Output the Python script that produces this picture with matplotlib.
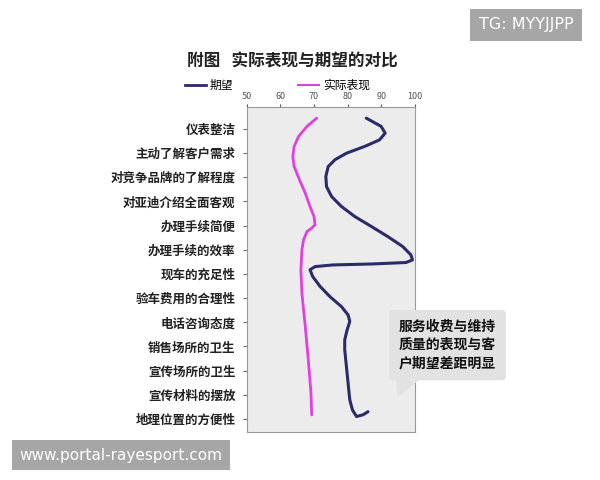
import matplotlib
matplotlib.use('Agg')
import matplotlib.pyplot as plt
from matplotlib.patches import Polygon
from matplotlib.lines import Line2D

plt.rcParams['font.family'] = ['Noto Sans CJK SC', 'DejaVu Sans']

# categories, top to bottom
items = ['仪表整洁', '主动了解客户需求', '对竞争品牌的了解程度', '对亚迪介绍全面客观',
         '办理手续简便', '办理手续的效率', '现车的充足性', '验车费用的合理性',
         '电话咨询态度', '销售场所的卫生', '宣传场所的卫生', '宣传材料的摆放',
         '地理位置的方便性']

# points (position in category units, score)
expect_pos = [-0.44, -0.10, 0.18, 0.46, 0.73, 1.01, 1.28, 1.56, 1.97, 2.39, 2.80,
              3.21, 3.63, 4.04, 4.46, 4.87, 5.21, 5.42, 5.53, 5.59, 5.63, 5.70,
              5.83, 6.11, 6.52, 6.94, 7.35, 7.70, 7.97, 8.32, 8.73, 9.14, 9.83,
              10.52, 11.21, 11.63, 11.90, 11.83, 11.70]
expect_val = [85.5, 89.9, 91.1, 89.4, 85.0, 79.6, 76.2, 74.2, 73.5, 73.7, 75.2,
              78.1, 82.1, 87.0, 91.9, 96.3, 98.7, 99.2, 97.3, 87.4, 75.6, 70.3,
              68.8, 69.6, 71.8, 74.7, 78.1, 80.1, 80.6, 79.8, 79.1, 79.1, 79.6,
              80.1, 80.6, 81.4, 82.6, 84.5, 86.0]

actual_pos = [-0.44, -0.10, 0.32, 0.73, 1.15, 1.56, 2.11, 2.66, 3.21, 3.63, 3.97,
              4.11, 4.25, 4.59, 5.01, 5.83, 6.80, 8.18, 9.56, 10.94, 11.83]
actual_val = [70.8, 67.9, 65.4, 64.1, 63.7, 64.1, 65.7, 67.4, 68.8, 70.0, 70.3,
              69.3, 67.9, 66.9, 66.4, 66.1, 66.4, 67.4, 68.3, 69.1, 69.3]

xticks = [50, 60, 70, 80, 90, 100]

navy = '#2b2b6b'
pink = '#e040e0'

fig = plt.figure(figsize=(6, 4.8), dpi=100)
ax = fig.add_axes([0.411, 0.10, 0.281, 0.677])
ax.set_facecolor('#ececec')

ax.plot(expect_val, expect_pos, color=navy, lw=2.2, solid_capstyle='round')
ax.plot(actual_val, actual_pos, color=pink, lw=2, solid_capstyle='round')

ax.set_xlim(50, 100)
ax.set_ylim(12.54, -0.9)
ax.xaxis.tick_top()
ax.set_xticks(xticks)
ax.tick_params(axis='x', labelsize=6.5, colors='#555555', length=2, pad=2)
ax.set_yticks(range(len(items)))
ax.set_yticklabels(items, fontsize=9, fontweight='bold', color='#222222')
ax.tick_params(axis='y', length=3, color='#666666', pad=5)
for s in ax.spines.values():
    s.set_color('#999999')
    s.set_linewidth(0.8)

fig.text(0.488, 0.871, '附图   实际表现与期望的对比', ha='center', va='center',
         fontsize=12, fontweight='bold', color='#222222')

handles = [Line2D([], [], color=navy, lw=2), Line2D([], [], color=pink, lw=1.5)]
fig.legend(handles, ['期望', '实际表现'], ncol=2, loc='center left',
           bbox_to_anchor=(0.29, 0.822), frameon=False, fontsize=8.5,
           handlelength=1.8, handletextpad=0.3, columnspacing=5.5)

# callout bubble
tail = Polygon([(0.66, 0.215), (0.663, 0.173), (0.705, 0.215)],
               closed=True, transform=fig.transFigure, facecolor='#e2e2e2',
               edgecolor='none', zorder=4)
fig.patches.append(tail)
fig.text(0.746, 0.281, '服务收费与维持\n质量的表现与客\n户期望差距明显', ha='center',
         va='center', fontsize=10, fontweight='bold', color='#111111',
         linespacing=1.4, zorder=5,
         bbox=dict(boxstyle='round,pad=0.7,rounding_size=0.3',
                   facecolor='#e2e2e2', edgecolor='none'))

# watermarks
fig.text(0.2015, 0.052, 'www.portal-rayesport.com', ha='center', va='center',
         fontsize=11, color='white', family=['DejaVu Sans'],
         bbox=dict(boxstyle='square,pad=0.5', facecolor='#a6a6a6', edgecolor='none'))
fig.text(0.877, 0.948, 'TG: MYYJJPP', ha='center', va='center',
         fontsize=11.5, color='white', family=['DejaVu Sans'],
         bbox=dict(boxstyle='square,pad=0.55', facecolor='#a6a6a6', edgecolor='none'))

fig.savefig('out.png', dpi=100, facecolor='white')
